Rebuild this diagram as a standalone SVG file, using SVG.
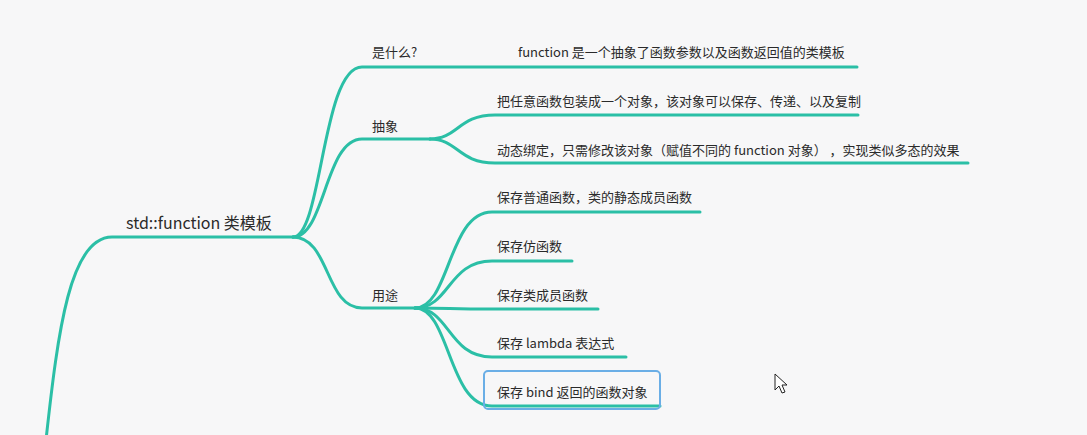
<svg xmlns="http://www.w3.org/2000/svg" width="1087" height="435" viewBox="0 0 1087 435">
<style>
.bg{fill:#f7f7f8}
.ln{fill:none;stroke:#2bbfa6;stroke-width:3;stroke-linecap:round}
.t{font-family:"Noto Sans CJK SC","Liberation Sans",sans-serif;font-size:13px;fill:#2a2a2a}
.root{font-family:"Noto Sans CJK SC","Liberation Sans",sans-serif;font-size:16px;fill:#2a2a2a}
.sel{fill:none;stroke:#6aaee6;stroke-width:2}
</style>
<rect class="bg" width="1087" height="435"/>
<g id="connectors">
<path class="ln" d="M46,440 C58,330 70,237 112,237 L293,237"/>
<path class="ln" d="M293,237 C322,237 322,67 362,67 L857,67"/>
<path class="ln" d="M293,237 C325,237 325,139 362,139 L430,139"/>
<path class="ln" d="M293,237 C330,237 325,308 362,308 L415,308"/>
<path class="ln" d="M430,139 C458,139 458,115 495,115 L858,115"/>
<path class="ln" d="M430,139 C458,139 458,163 495,163 L968,163"/>
<path class="ln" d="M415,308 C450,308 448,212 492,212 L700,212"/>
<path class="ln" d="M415,308 C450,308 448,261 492,261 L572,261"/>
<path class="ln" d="M415,308 C450,308 450,309 492,309 L598,309"/>
<path class="ln" d="M415,308 C450,308 448,357 492,357 L626,357"/>
<path class="ln" d="M415,308 C450,308 448,406 492,406 L660,406"/>
</g>
<g id="root"><text class="root" x="126" y="229">std::function 类模板</text></g>
<g id="what"><text class="t" x="372" y="57">是什么?</text></g>
<g id="what-desc"><text class="t" x="518" y="57">function 是一个抽象了函数参数以及函数返回值的类模板</text></g>
<g id="abstract"><text class="t" x="372" y="131">抽象</text></g>
<g id="abstract-1"><text class="t" x="497" y="106">把任意函数包装成一个对象，该对象可以保存、传递、以及复制</text></g>
<g id="abstract-2"><text class="t" x="497" y="155">动态绑定，只需修改该对象（赋值不同的 function 对象） ，实现类似多态的效果</text></g>
<g id="usage"><text class="t" x="372" y="300">用途</text></g>
<g id="usage-1"><text class="t" x="497" y="202">保存普通函数，类的静态成员函数</text></g>
<g id="usage-2"><text class="t" x="497" y="251">保存仿函数</text></g>
<g id="usage-3"><text class="t" x="497" y="300">保存类成员函数</text></g>
<g id="usage-4"><text class="t" x="497" y="348">保存 lambda 表达式</text></g>
<g id="usage-5"><rect class="sel" x="484" y="371" width="176" height="38" rx="4"/><text class="t" x="497" y="397">保存 bind 返回的函数对象</text></g>
<path d="M775,374 L775,390 L779,386 L782,393 L785,392 L782,385 L787,385 Z" fill="#fff" stroke="#222" stroke-width="1"/>
</svg>
